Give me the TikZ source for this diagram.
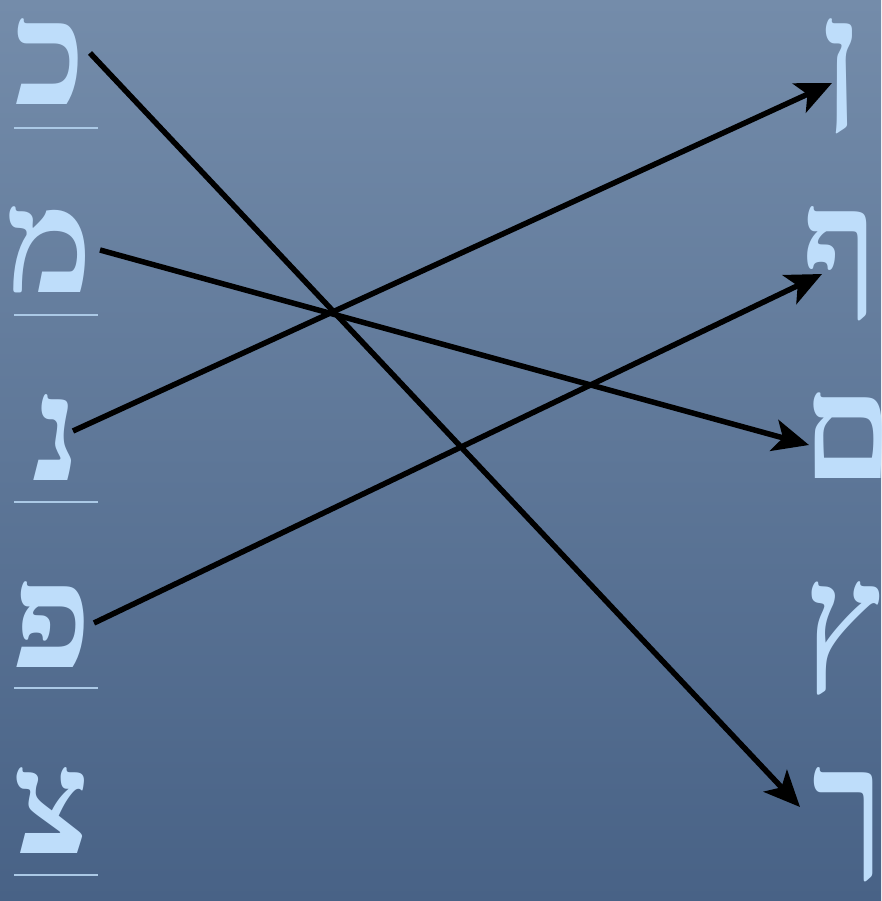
\documentclass[tikz,border=0pt]{standalone}
\usepackage{fontspec}
\newfontfamily\hebfont[Script=Hebrew]{Liberation Serif}
\usetikzlibrary{arrows.meta}
\definecolor{bgtop}{RGB}{116,140,170}
\definecolor{bgbot}{RGB}{72,98,134}
\definecolor{letter}{RGB}{190,221,250}
\tikzset{
  heb/.style={text=letter, inner sep=0pt, anchor=base, font=\hebfont\bfseries\fontsize{146}{146}\selectfont},
  rule/.style={draw=letter!75!bgtop, line width=1.2pt},
  link/.style={draw=black, line width=5.5pt, -{Stealth[length=36pt,width=32pt,inset=9pt]}}
}
\begin{document}
\begin{tikzpicture}[x=1pt,y=-1pt]
\useasboundingbox (0,0) rectangle (881,901);
\shade[top color=bgtop, bottom color=bgbot] (0,0) rectangle (881,901);
\clip (0,0) rectangle (881,901);
% left column
\node[heb] (kaf) at (50,105) {כ};
\node[heb] (mem) at (50,292) {מ};
\node[heb] (nun) at (56,480) {נ};
\node[heb] (pe) at (52,667) {פ};
\node[heb] (tsadi) at (52,853) {צ};
\draw[rule] (14,128) -- (98,128);
\draw[rule] (14,315) -- (98,315);
\draw[rule] (14,502) -- (98,502);
\draw[rule] (14,688) -- (98,688);
\draw[rule] (14,875) -- (98,875);
% right column
\node[heb] (fnun) at (841,105) {ן};
\node[heb] (fpe) at (840,292) {ף};
\node[heb] (fmem) at (848,478) {ם};
\node[heb] (ftsadi) at (843,667) {ץ};
\node[heb] (fkaf) at (848,853) {ך};
% connector ends
\coordinate (kafS) at (90,53);
\coordinate (memS) at (100,250);
\coordinate (nunS) at (73,431);
\coordinate (peS) at (94,623);
\coordinate (fnunE) at (832,83);
\coordinate (fpeE) at (822,274);
\coordinate (fmemE) at (809,445);
\coordinate (fkafE) at (800,807);
\draw[link] (kafS) -- (fkafE);
\draw[link] (memS) -- (fmemE);
\draw[link] (nunS) -- (fnunE);
\draw[link] (peS) -- (fpeE);
\end{tikzpicture}
\end{document}
